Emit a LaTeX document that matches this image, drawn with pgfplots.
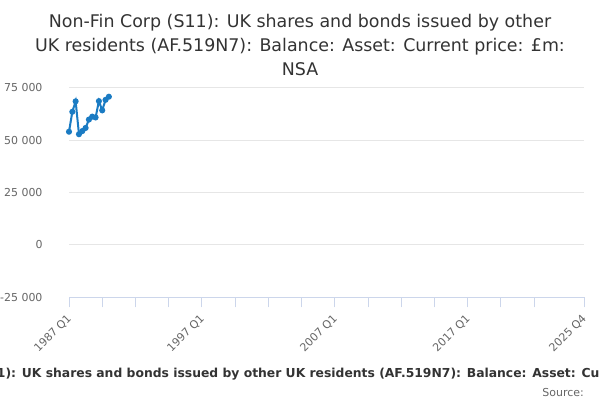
\documentclass[border=0pt]{standalone}
\usepackage{pgfplots}
\pgfplotsset{compat=1.18}
\usepackage{fontspec}
\setmainfont{DejaVu Sans}
\definecolor{linec}{HTML}{1A7BC3}
\definecolor{gridc}{HTML}{E6E6E6}
\definecolor{axc}{HTML}{CCD6EB}
\definecolor{txt}{HTML}{666666}
\definecolor{ttl}{HTML}{333333}
\begin{document}
\begin{tikzpicture}[x=1bp,y=1bp]
\clip (0,0) rectangle (600,400);
\fill[white] (0,0) rectangle (600,400);
\begin{axis}[
  at={(69bp,102.7bp)}, anchor=south west,
  scale only axis, width=515bp, height=209.6bp,
  xmin=0, xmax=155, ymin=-25000, ymax=75000,
  axis x line*=bottom, axis y line*=left,
  x axis line style={draw=axc, line width=1bp, -},
  y axis line style={draw=none},
  xtick={0,10,...,140,155},
  xticklabels={1987 Q1,,,,1997 Q1,,,,2007 Q1,,,,2017 Q1,,,2025 Q4},
  tick align=outside, major tick length=10bp,
  x tick style={draw=axc, line width=1bp},
  ytick={-25000,0,25000,50000,75000},
  yticklabels={-25 000,0,25 000,50 000,75 000},
  scaled y ticks=false,
  y tick style={draw=none},
  ymajorgrids, grid style={draw=gridc, line width=1bp},
  yticklabel style={font=\fontsize{11}{13}\selectfont, text=txt, anchor=east, xshift=-13bp},
  xticklabel style={font=\fontsize{11}{13}\selectfont, text=txt, rotate=45, anchor=north east, xshift=-3bp, yshift=1bp},
  /pgf/number format/assume math mode=true,
  clip=false,
]
\addplot[color=linec, line width=2bp, mark=*, mark size=2bp, mark options={fill=linec, draw=linec}] coordinates {
(0,54000) (1,63500) (2,68500) (3,52800) (4,54300) (5,55800) (6,59800)
(7,61200) (8,60800) (9,68600) (10,64200) (11,69200) (12,70700)
};
\end{axis}
\node[anchor=base, text=ttl, font=\fontsize{17.5}{20}\selectfont] at (300,373) {Non-Fin Corp (S11): UK shares and bonds issued by other};
\node[anchor=base, text=ttl, font=\fontsize{17.5}{20}\selectfont] at (300,348.5) {UK residents (AF.519N7): Balance: Asset: Current price: £m:};
\node[anchor=base, text=ttl, font=\fontsize{17.5}{20}\selectfont] at (300,325) {NSA};
\node[anchor=base, text=ttl, font=\fontsize{12.4}{14}\selectfont\bfseries, inner sep=0pt] at (312,22.5) {Non-Fin Corp (S11): UK shares and bonds issued by other UK residents (AF.519N7): Balance: Asset: Current price: £m: NSA};
\node[anchor=base east, text=txt, font=\fontsize{11}{13}\selectfont, inner sep=0pt] at (584,3.5) {Source:};
\end{tikzpicture}
\end{document}
